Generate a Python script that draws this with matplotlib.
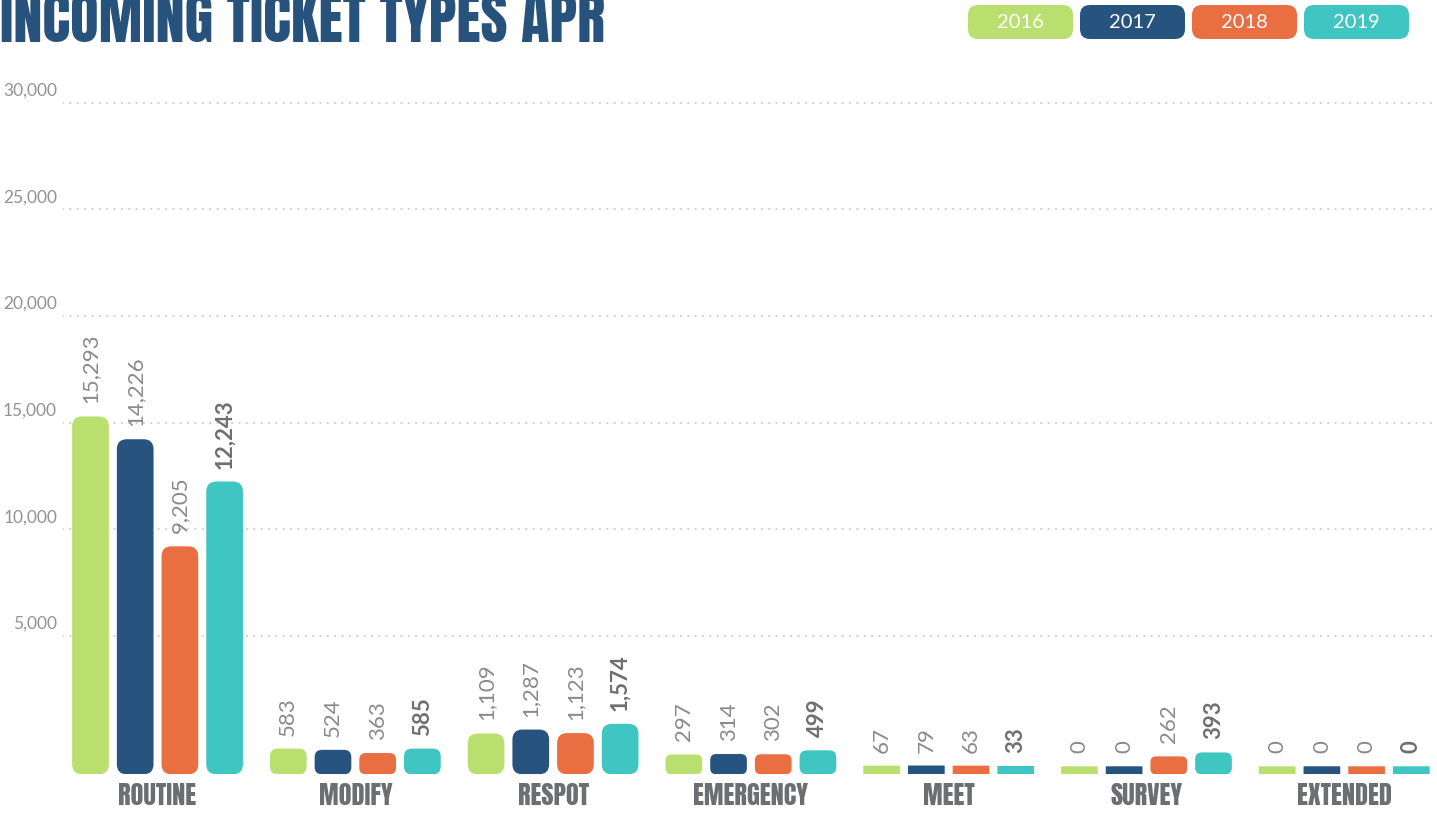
import numpy as np
import matplotlib
matplotlib.use('Agg')
import matplotlib.pyplot as plt
from matplotlib.patches import FancyBboxPatch
from matplotlib.transforms import IdentityTransform

# ticket counts per type, April of each year
categories = ['ROUTINE', 'MODIFY', 'RESPOT', 'EMERGENCY', 'MEET', 'SURVEY', 'EXTENDED']
years = ['2016', '2017', '2018', '2019']
v2016 = [15293, 583, 1109, 297, 67, 0, 0]
v2017 = [14226, 524, 1287, 314, 79, 0, 0]
v2018 = [9205, 363, 1123, 302, 63, 262, 0]
v2019 = [12243, 585, 1574, 499, 33, 393, 0]
yticks = [5000, 10000, 15000, 20000, 25000, 30000]

series = [v2016, v2017, v2018, v2019]
colors = ['#b9df6f', '#27537f', '#e96e42', '#3fc6c2']

# the original squeezes the small bars: value -> pixels above the bar foot
knot_v = [-1000, 0, 100, 300, 600, 1150, 1600, 2600, 40000]
knot_p = [0, 8, 9, 20, 26, 42, 51, 87.1, 884.8]

def fwd(v):
    return np.interp(v, knot_v, knot_p)

def inv(p):
    return np.interp(p, knot_p, knot_v)

W, H = 1437, 815
narrow = ['Anton', 'League Gothic', 'DejaVu Sans']
light = ['Lato', 'DejaVu Sans']

plt.rcParams['lines.dash_capstyle'] = 'round'
fig = plt.figure(figsize=(W / 100, H / 100), dpi=100)
ax = fig.add_axes([63 / W, 40.7 / H, (W - 63) / W, 714.2 / H])
ax.set_yscale('function', functions=(fwd, inv))
ax.set_ylim(-1000, 32000)
ax.set_xlim(-0.478, 6.469)
for s in ax.spines.values():
    s.set_visible(False)
ax.set_xticks([])
ax.set_yticks(yticks)
ax.tick_params(axis='y', length=0, labelleft=False)
ax.grid(axis='y', color='#cfcfcf', linewidth=1.6, linestyle=(0, (0.01, 3.3)))
ax.set_axisbelow(True)

for t in yticks:
    ax.annotate(f'{t:,}', (0, t), xycoords=('axes fraction', 'data'),
                xytext=(-6, 12), textcoords='offset pixels', ha='right', va='center',
                fontsize=12.5, color='#939393', family=light)

pitch, width = 0.226, 0.1855
for j, (vals, col) in enumerate(zip(series, colors)):
    for i, v in enumerate(vals):
        x = i + (j - 1.5) * pitch
        x0, y0 = ax.transData.transform((x - width / 2, -1000))
        x1, y1 = ax.transData.transform((x + width / 2, v))
        h = y1 - y0
        r = min(10, 0.3 * h) if h > 12 else 0.5
        ax.add_patch(FancyBboxPatch((x0, y0), x1 - x0, h,
                                    boxstyle=f'round,pad=0,rounding_size={r}',
                                    transform=IdentityTransform(), fc=col, ec='none', zorder=2))
        bold = j == 3
        ax.annotate(f'{v:,}', (x, v), xytext=(0, 13), textcoords='offset pixels',
                    rotation=90, ha='center', va='bottom', fontsize=16,
                    color='#6f6f6f' if bold else '#8a8a8a', family=light,
                    fontweight='bold' if bold else 'normal')

for i, name in enumerate(categories):
    ax.annotate(name, (i, 0), xycoords=('data', 'axes fraction'), xytext=(0, -31),
                textcoords='offset pixels', ha='center', va='baseline',
                fontsize=19, color='#6d6e71', family=narrow)

fig.text(0, (H - 42) / H, 'INCOMING TICKET TYPES APR', ha='left', va='baseline',
         fontsize=42, color='#27527c', family=narrow)

# legend pills
for k, (yr, col) in enumerate(zip(years, colors)):
    px = 968 + k * 112
    fig.add_artist(FancyBboxPatch((px, H - 39), 105, 34,
                                  boxstyle='round,pad=0,rounding_size=10',
                                  transform=IdentityTransform(), fc=col, ec='none'))
    fig.text((px + 52.5) / W, (H - 22) / H, yr, ha='center', va='center',
             fontsize=14.5, color='white', family=light)

fig.savefig('out.png', dpi=100)
